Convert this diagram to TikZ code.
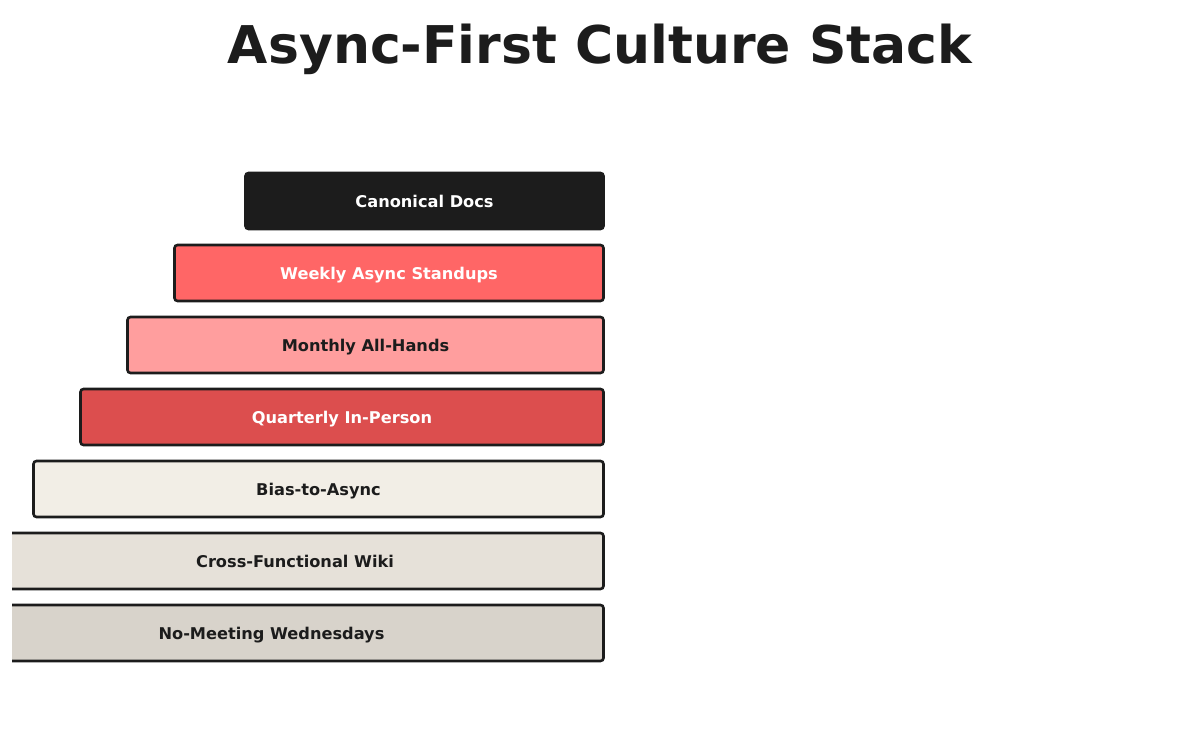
\documentclass[tikz,border=0pt]{standalone}
\usepackage{fontspec}
\setmainfont{DejaVu Sans}
\usepackage{xcolor}
\usepackage{tikz}
\usetikzlibrary{calc}
\definecolor{stackInk}{HTML}{1C1C1C}
\definecolor{stackRed}{HTML}{FF6666}
\definecolor{stackPink}{HTML}{FF9E9E}
\definecolor{stackBrick}{HTML}{DC4E4E}
\definecolor{stackCream}{HTML}{F2EEE6}
\definecolor{stackSand}{HTML}{E6E1D9}
\definecolor{stackStone}{HTML}{D8D3CB}

\begin{document}
\begin{tikzpicture}[x=1pt, y=-1pt, style={line cap = round},
  layer/.style={draw=stackInk, line width=2.6pt, rounded corners=3pt, inner sep=0pt,
    minimum height=56pt, text depth=-1pt, font=\fontsize{16.2}{16}\selectfont\bfseries}]
  \useasboundingbox (0,0) rectangle (1200,743);
  \node (title) at (600,49) {\fontsize{52}{52}\selectfont\bfseries\color{stackInk}Async-First Culture Stack};

  \begin{scope}
    \clip (12,0) rectangle (1200,743);
    \node[layer, fill=stackInk, text=white, minimum width=358pt] (docs) at (424.5,201) {Canonical Docs};
    \node[layer, fill=stackRed, text=white, minimum width=429pt] (standups) at (389,273) {Weekly Async Standups};
    \node[layer, fill=stackPink, text=stackInk, minimum width=476pt] (allhands) at (365.5,345) {Monthly All-Hands};
    \node[layer, fill=stackBrick, text=white, minimum width=523pt] (inperson) at (342,417) {Quarterly In-Person};
    \node[layer, fill=stackCream, text=stackInk, minimum width=570pt] (bias) at (318.5,489) {Bias-to-Async};
    \node[layer, fill=stackSand, text=stackInk, minimum width=617pt] (wiki) at (295,561) {Cross-Functional Wiki};
    \node[layer, fill=stackStone, text=stackInk, minimum width=664pt] (nomeeting) at (271.5,633) {No-Meeting Wednesdays};
  \end{scope}
\end{tikzpicture}
\end{document}
